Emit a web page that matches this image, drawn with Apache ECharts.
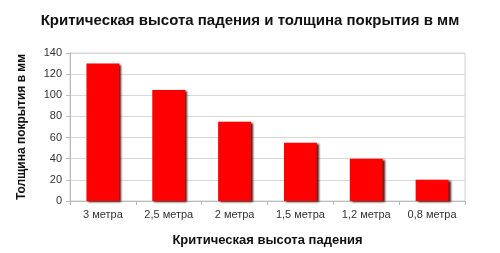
<!DOCTYPE html>
<html><head><meta charset="utf-8">
<script src="https://cdn.jsdelivr.net/npm/echarts@6/dist/echarts.min.js"></script>
<style>html,body{margin:0;padding:0;background:#fff}#c{width:500px;height:253px}</style>
</head><body><div id="c"></div>
<script>
const categories = ['3 метра','2,5 метра','2 метра','1,5 метра','1,2 метра','0,8 метра'];
const values = [130,105,75,55,40,20];
const titleText = 'Критическая высота падения и толщина покрытия в мм';
const xName = 'Критическая высота падения';
const yName = 'Толщина покрытия в мм';
const chart = echarts.init(document.getElementById('c'));
chart.setOption({
  animation:false,
  title:{text:titleText,left:'center',top:8,textStyle:{fontFamily:'Liberation Sans',fontSize:15,fontWeight:'bold',color:'#111'}},
  grid:{left:70,right:35,top:53,bottom:52,show:true,borderColor:'#d0d0d0',borderWidth:1},
  xAxis:{type:'category',data:categories,name:xName,nameLocation:'middle',nameGap:33,
    nameTextStyle:{fontFamily:'Liberation Sans',fontSize:13,fontWeight:'bold',color:'#111'},
    axisLine:{lineStyle:{color:'#bbb'}},axisTick:{show:true,lineStyle:{color:'#bbb'},length:4},
    axisLabel:{fontFamily:'Liberation Sans',fontSize:11,color:'#333',margin:8}},
  yAxis:{type:'value',min:0,max:140,interval:20,name:yName,nameLocation:'middle',nameGap:42,
    nameTextStyle:{fontFamily:'Liberation Sans',fontSize:12,fontWeight:'bold',color:'#111'},
    axisLine:{show:true,lineStyle:{color:'#bbb'}},axisTick:{show:true,length:4,lineStyle:{color:'#bbb'}},
    axisLabel:{fontFamily:'Liberation Sans',fontSize:11,color:'#333',margin:8},
    splitLine:{lineStyle:{color:'#d8d8d8'}}},
  series:[{type:'bar',data:values,barWidth:'50%',
    itemStyle:{color:'#ff0000',shadowColor:'rgba(60,0,0,0.9)',shadowOffsetX:2,shadowOffsetY:1,shadowBlur:2}}]
});
</script></body></html>
